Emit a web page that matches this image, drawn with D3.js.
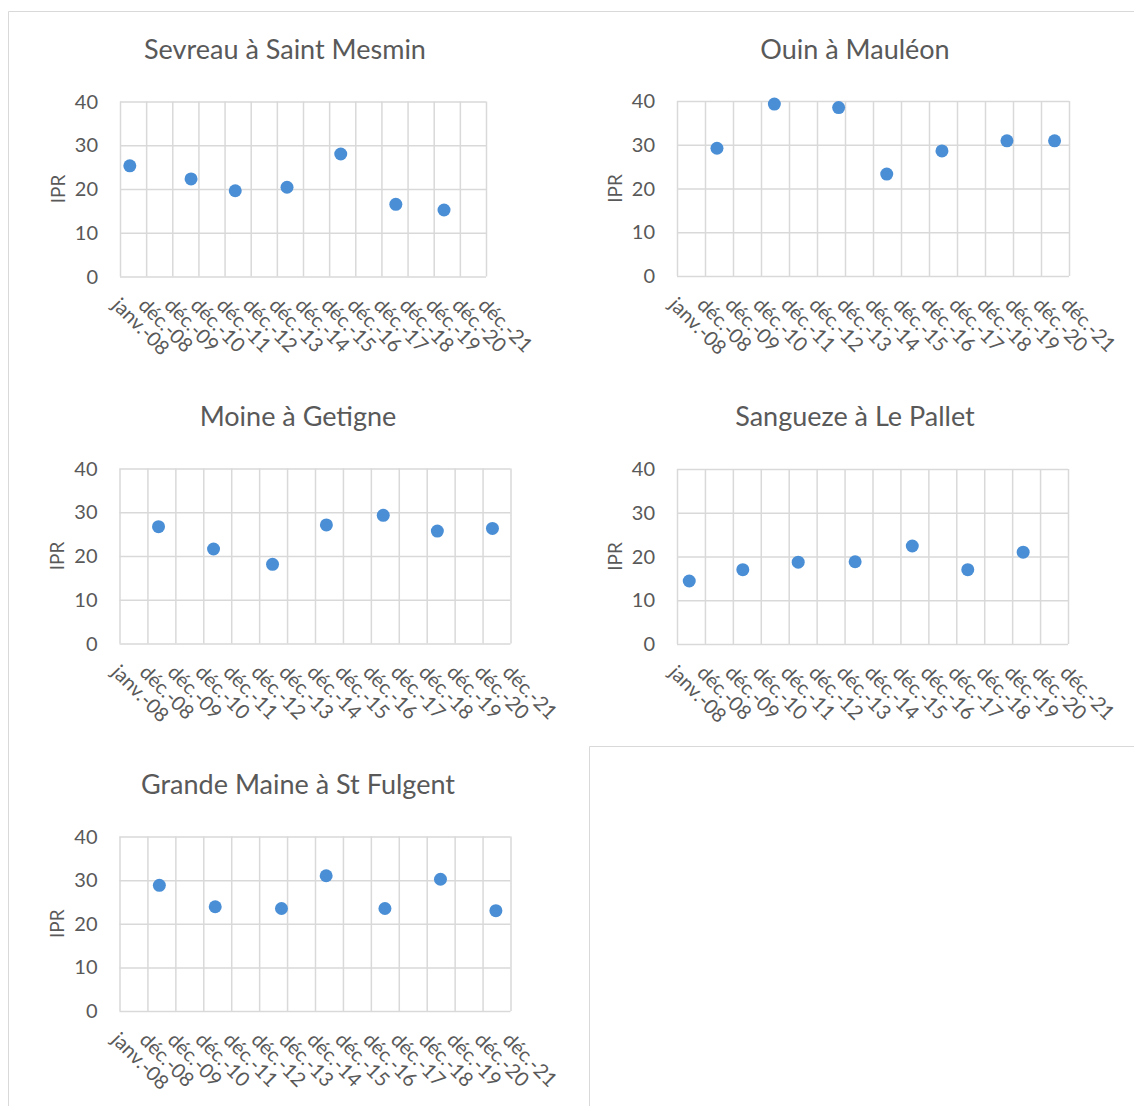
<!DOCTYPE html>
<html>
<head>
<meta charset="utf-8">
<script src="https://cdn.jsdelivr.net/npm/d3@7"></script>
<style>
  body { margin: 0; background: #fff; }
  text { font-family: Lato, "Noto Sans", sans-serif; fill: #595959; }
</style>
</head>
<body>
<div class="chart"></div>
<script>
// x tick labels (one tick every 365 days from janv. 2008, like the Excel axis)
var tickLabels = ["janv.-08", "déc.-08", "déc.-09", "déc.-10", "déc.-11", "déc.-12", "déc.-13",
    "déc.-14", "déc.-15", "déc.-16", "déc.-17", "déc.-18", "déc.-19", "déc.-20", "déc.-21"];
var yTicks = [0, 10, 20, 30, 40];

var stations = ["Sevreau à Saint Mesmin", "Ouin à Mauléon", "Moine à Getigne",
    "Sangueze à Le Pallet", "Grande Maine à St Fulgent"];

// sampling dates and IPR values
var sevreauDates = ["2008-05-17", "2010-09-19", "2012-05-28", "2014-05-21", "2016-06-09", "2018-07-18", "2020-05-21"];
var sevreauIPR = [25.3, 22.3, 19.6, 20.4, 28.0, 16.5, 15.2];

var ouinDates = ["2009-06-05", "2011-06-23", "2013-10-08", "2015-06-27", "2017-06-16", "2019-10-11", "2021-06-23"];
var ouinIPR = [29.2, 39.3, 38.5, 23.3, 28.6, 30.9, 30.9];

var moineDates = ["2009-05-25", "2011-05-14", "2013-06-23", "2015-05-28", "2017-06-09", "2019-05-17", "2021-05-06"];
var moineIPR = [26.7, 21.6, 18.1, 27.1, 29.3, 25.7, 26.3];

var sanguezeDates = ["2008-06-09", "2010-05-10", "2012-05-03", "2014-05-17", "2016-06-02", "2018-05-28", "2020-05-21"];
var sanguezeIPR = [14.4, 17.0, 18.7, 18.8, 22.4, 17.0, 21.0];

var grandeMaineDates = ["2009-06-05", "2011-06-05", "2013-10-18", "2015-05-25", "2017-07-01", "2019-06-27", "2021-06-20"];
var grandeMaineIPR = [28.8, 23.9, 23.5, 31.0, 23.5, 30.2, 23.0];

var svgWidth = 1134;
var svgHeight = 1106;

var parseDate = d3.timeParse("%Y-%m-%d");
var axisStart = parseDate("2008-01-01");
var tickDates = tickLabels.map((d, i) => d3.timeDay.offset(axisStart, i * 365));

// plot boxes (left, top, width, height) and title centre for each panel
var panels = [
    {name: stations[0], dates: sevreauDates, ipr: sevreauIPR, left: 120, top: 101.5, w: 366, h: 175, titleX: 285, titleY: 50},
    {name: stations[1], dates: ouinDates, ipr: ouinIPR, left: 677, top: 101, w: 392, h: 175, titleX: 855, titleY: 50},
    {name: stations[2], dates: moineDates, ipr: moineIPR, left: 119.5, top: 468.5, w: 391, h: 175, titleX: 298, titleY: 417},
    {name: stations[3], dates: sanguezeDates, ipr: sanguezeIPR, left: 677, top: 469, w: 391, h: 175, titleX: 855, titleY: 417},
    {name: stations[4], dates: grandeMaineDates, ipr: grandeMaineIPR, left: 119.5, top: 836.5, w: 391, h: 174.5, titleX: 298, titleY: 785}
];

var svg = d3.select(".chart")
    .append("svg")
    .attr("width", svgWidth)
    .attr("height", svgHeight);

svg.append("rect")
    .attr("width", svgWidth)
    .attr("height", svgHeight)
    .attr("fill", "#fff");

// outer frame lines and the empty box at bottom right
svg.append("path")
    .attr("d", `M8.5,${svgHeight} V11.5 H${svgWidth}`)
    .attr("fill", "none")
    .attr("stroke", "#d9d9d9");
svg.append("path")
    .attr("d", `M589.5,${svgHeight} V746.5 H${svgWidth}`)
    .attr("fill", "none")
    .attr("stroke", "#d9d9d9");

panels.forEach(function(p) {
    var data = p.dates.map((d, i) => ({date: parseDate(d), ipr: p.ipr[i]}));

    var x = d3.scaleTime()
        .domain([tickDates[0], tickDates[tickDates.length - 1]])
        .range([0, p.w]);
    var y = d3.scaleLinear()
        .domain([0, 40])
        .range([p.h, 0]);

    svg.append("text")
        .attr("x", p.titleX)
        .attr("y", p.titleY)
        .attr("dy", "0.35em")
        .attr("text-anchor", "middle")
        .attr("font-size", "27px")
        .text(p.name);

    var g = svg.append("g")
        .attr("transform", `translate(${p.left}, ${p.top})`);

    // gridlines
    g.append("g")
        .call(d3.axisLeft(y).tickValues(yTicks).tickSize(-p.w).tickFormat(""))
        .call(a => a.select(".domain").remove())
        .selectAll("line").attr("stroke", "#d9d9d9").attr("stroke-width", 1.5);
    g.append("g")
        .attr("transform", `translate(0, ${p.h})`)
        .call(d3.axisBottom(x).tickValues(tickDates).tickSize(-p.h).tickFormat(""))
        .call(a => a.select(".domain").remove())
        .selectAll("line").attr("stroke", "#d9d9d9").attr("stroke-width", 1.5);

    // y tick labels
    g.append("g")
        .selectAll("text")
        .data(yTicks)
        .join("text")
        .attr("x", -22)
        .attr("y", d => y(d))
        .attr("dy", "0.35em")
        .attr("text-anchor", "end")
        .attr("font-size", "20px")
        .text(d => d);

    // x tick labels, rotated
    g.append("g")
        .selectAll("text")
        .data(tickDates)
        .join("text")
        .attr("transform", d => `translate(${x(d) - 4}, ${p.h + 25}) rotate(45)`)
        .attr("dy", "0.35em")
        .attr("font-size", "20px")
        .attr("fill", "#666")
        .text((d, i) => tickLabels[i]);

    g.append("text")
        .attr("transform", `translate(-62, ${p.h / 2}) rotate(-90)`)
        .attr("dy", "0.35em")
        .attr("text-anchor", "middle")
        .attr("font-size", "19px")
        .text("IPR");

    g.selectAll("circle")
        .data(data)
        .join("circle")
        .attr("cx", d => x(d.date))
        .attr("cy", d => y(d.ipr))
        .attr("r", 6.5)
        .attr("fill", "#4a8fd6");
});
</script>
</body>
</html>
